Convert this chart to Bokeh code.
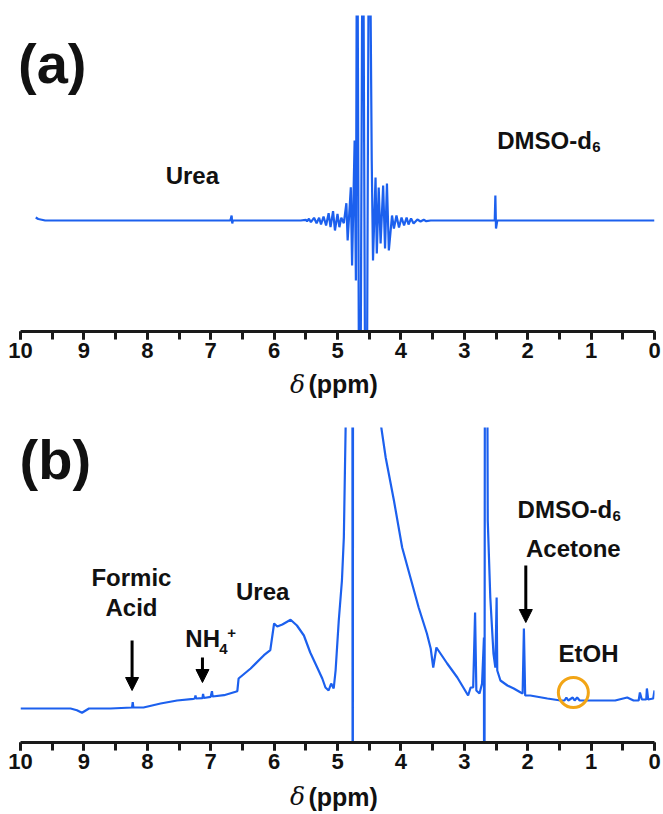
from bokeh.plotting import figure
from bokeh.models import Range1d, SingleIntervalTicker, Label, Arrow, NormalHead
from bokeh.core.properties import value
from bokeh.layouts import column
from bokeh.embed import file_html
from bokeh.resources import INLINE

# ---------------- data ----------------
# panel (a): chemical shift (ppm) and intensity (a.u.)
a_ppm = [9.76, 9.72, 9.61, 6.69, 6.67, 6.66, 6.65, 5.58, 5.50, 5.48,
         5.45, 5.42, 5.37, 5.33, 5.29, 5.26, 5.22, 5.18, 5.14, 5.11,
         5.07, 5.04, 5.00, 4.97, 4.94, 4.90, 4.86, 4.84, 4.79, 4.77,
         4.73, 4.71, 4.69, 4.65, 4.60, 4.55, 4.50, 4.46, 4.44, 4.40,
         4.38, 4.35, 4.32, 4.28, 4.25, 4.22, 4.19, 4.14, 4.11, 4.07,
         4.03, 3.99, 3.95, 3.91, 3.88, 3.84, 3.80, 3.74, 3.69, 3.64,
         3.60, 3.53, 2.52, 2.51, 2.50, 2.48, 0.00]
a_int = [3, 1.5, 0, 0, 5, -3, 0, 0, 0.7, -0.7,
         1.7, -1.7, 2.7, -2.7, 2.7, -4, 4, -5, 7.3, -6.7,
         9.3, -10, 6.7, -6.7, 2.7, -2.7, 17.3, -20, 33.3, -45,
         80, -60, 400, -400, 400, -400, 400, 60, -40, 43,
         -33, 33, -23, 35, -28, 37, -30, 5, -8, 5,
         -7, 3, -5, 3, -4, 2, -3, 1, -1, 0.7,
         -0.7, 0, 0, 25, -8, 0, 0]

# panel (b)
b_ppm = [10.00, 9.21, 9.11, 9.03, 8.92, 8.58, 8.24, 8.23, 8.22, 8.06,
         7.79, 7.53, 7.27, 7.25, 7.24, 7.23, 7.13, 7.12, 7.11, 7.00,
         6.98, 6.97, 6.79, 6.58, 6.56, 6.37, 6.16, 6.06, 6.00, 5.95,
         5.87, 5.74, 5.64, 5.53, 5.43, 5.32, 5.24, 5.19, 5.14, 5.10,
         5.06, 5.03, 4.98, 4.93, 4.90, 4.87, 4.84, 4.765, 4.76, 4.755,
         4.34, 4.33, 4.24, 4.11, 3.98, 3.85, 3.72, 3.59, 3.53, 3.49,
         3.44, 3.27, 3.11, 2.94, 2.90, 2.86, 2.83, 2.81, 2.76, 2.72,
         2.69, 2.685, 2.675, 2.64, 2.63, 2.59, 2.54, 2.51, 2.49, 2.48,
         2.43, 2.32, 2.22, 2.11, 2.08, 2.06, 2.04, 1.96, 1.69, 1.48,
         1.42, 1.39, 1.36, 1.29, 1.26, 1.22, 1.18, 1.01, 0.62, 0.43,
         0.33, 0.25, 0.23, 0.20, 0.13, 0.12, 0.10, 0.02, 0.00]
b_int = [0, 0, -1.7, -4.3, 0, 0, 1, 6.3, 1, 1,
         5, 8, 9.7, 10, 13, 10, 10.3, 14.7, 10.5, 11.7,
         17.3, 12, 13.3, 17.3, 30, 40, 53.3, 58.3, 85, 82,
         84, 88.7, 83, 73, 56, 41, 30, 21, 18, 25,
         20, 38, 88, 128, 171, 288, 400, 400, -400, 400,
         400, 290, 251, 208, 161, 131, 101, 75, 60, 41,
         61, 45, 31, 13, 21, 21, 96, 18, 15, 25,
         71, -400, 400, 400, 188, 111, 55, 41, 111, 38,
         28, 23, 20, 16, 15, 80, 13, 13, 10, 8,
         8, 11, 8, 11, 8, 11, 8, 8, 8, 11,
         8, 8, 16, 9, 9, 20, 9, 10, 18]

x_ticks_interval = 1
x_title_symbol = "δ"
x_title_unit = "(ppm)"

BLUE = "#1c60ee"
FONT = "Liberation Sans"
W = 663


def make_fig(height, top, bottom, y0, y1):
    p = figure(width=W, height=height, x_range=Range1d(10, 0), y_range=Range1d(y0, y1),
               output_backend="svg", toolbar_location=None,
               min_border_left=20, min_border_right=9,
               min_border_top=top, min_border_bottom=bottom)
    p.xgrid.visible = False
    p.ygrid.visible = False
    p.yaxis.visible = False
    p.outline_line_color = None
    ax = p.xaxis[0]
    ax.ticker = SingleIntervalTicker(interval=x_ticks_interval, num_minor_ticks=2)
    ax.axis_line_width = 3
    ax.axis_line_color = "#1a1a1a"
    ax.major_tick_out = 8
    ax.major_tick_in = 0
    ax.minor_tick_out = 8
    ax.minor_tick_in = 0
    ax.major_tick_line_width = 3
    ax.minor_tick_line_width = 3
    ax.major_tick_line_color = "#1a1a1a"
    ax.minor_tick_line_color = "#1a1a1a"
    ax.major_label_text_font = FONT
    ax.major_label_text_font_style = "bold"
    ax.major_label_text_font_size = "22px"
    ax.major_label_text_color = "#111111"
    ax.major_label_standoff = 3
    return p


def title_fig(height):
    t = figure(width=W, height=height, x_range=Range1d(10, 0), y_range=Range1d(0, 1),
               output_backend="svg", toolbar_location=None,
               x_axis_type=None, y_axis_type=None,
               min_border_left=20, min_border_right=9, min_border_top=0, min_border_bottom=0)
    t.xgrid.visible = False
    t.ygrid.visible = False
    t.outline_line_color = None
    t.text(x=[5], y=[0.5], text=[x_title_symbol], text_font=value("DejaVu Serif"),
           text_font_style="italic", text_font_size="25px", text_align="center",
           text_baseline="middle", text_color="#111111", x_offset=-40)
    t.text(x=[5], y=[0.5], text=[x_title_unit], text_font=value(FONT),
           text_font_style="bold", text_font_size="25px", text_align="left",
           text_baseline="middle", text_color="#111111", x_offset=-29)
    return t


def lab(p, x, y, text, size="24px", align="center", baseline="middle", x_offset=0):
    p.add_layout(Label(x=x, y=y, text=text, text_font=FONT, text_font_style="bold",
                       text_font_size=size, text_align=align, text_baseline=baseline,
                       text_color="#111111", x_offset=x_offset))


# ---------------- panel (a) ----------------
pa = make_fig(367, 15, 36, -111, 205)
pa.line(a_ppm, a_int, line_color=BLUE, line_width=2.2)
lab(pa, 9.50, 157, "(a)", size="56px")
lab(pa, 7.29, 45, "Urea")
lab(pa, 2.48, 80, "DMSO-d", align="left", baseline="alphabetic")
lab(pa, 2.48, 74, "6", size="15px", align="left", baseline="alphabetic", x_offset=95)
ta = title_fig(33)

# ---------------- panel (b) ----------------
pb = make_fig(378, 27, 36, -34, 281)
pb.line(b_ppm, b_int, line_color=BLUE, line_width=2.2)
lab(pb, 9.45, 249, "(b)", size="56px")
lab(pb, 2.16, 199, "DMSO-d", align="left", baseline="alphabetic")
lab(pb, 2.16, 193, "6", size="15px", align="left", baseline="alphabetic", x_offset=95)
lab(pb, 1.28, 160, "Acetone")
lab(pb, 8.25, 131, "Formic")
lab(pb, 8.25, 101, "Acid")
lab(pb, 6.18, 117, "Urea")
lab(pb, 7.40, 70, "NH", align="left")
lab(pb, 7.40, 60, "4", size="15px", align="left", x_offset=34)
lab(pb, 7.40, 76, "+", size="15px", align="left", x_offset=42)
lab(pb, 1.04, 55, "EtOH")

for xs, ys, ye in [(8.24, 68, 18), (7.13, 51, 26), (2.03, 143, 86)]:
    pb.add_layout(Arrow(end=NormalHead(size=13, fill_color="black", line_color="black"),
                        x_start=xs, y_start=ys, x_end=xs, y_end=ye,
                        line_width=3, line_color="black"))

pb.scatter([1.28], [16], marker="circle", size=30, fill_color=None,
           line_color="#f2a516", line_width=3)
tb = title_fig(36)

layout = column(pa, ta, pb, tb)
open("out.html", "w").write(file_html(layout, INLINE))
